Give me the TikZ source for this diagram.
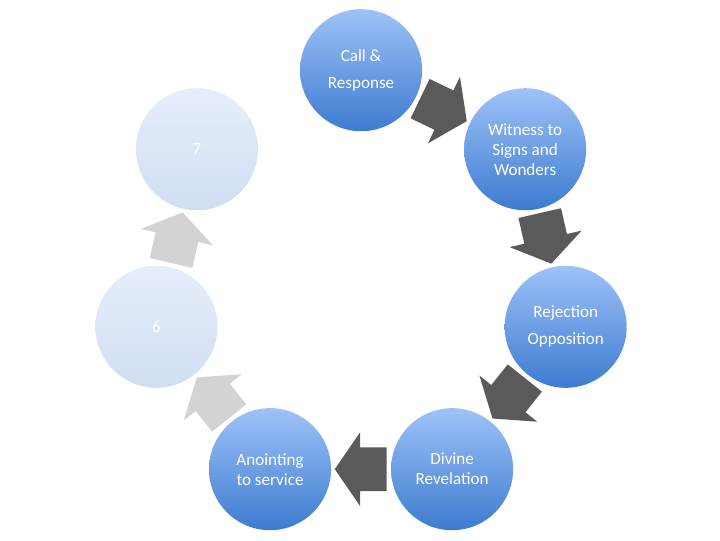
\documentclass[tikz,border=0pt]{standalone}
\usepackage{fontspec}
\setmainfont{Carlito}
\usetikzlibrary{shapes.arrows}

\definecolor{stagetop}{HTML}{9EC2F8}
\definecolor{stagebottom}{HTML}{3D7BD0}
\definecolor{paletop}{HTML}{E5EEFB}
\definecolor{palebottom}{HTML}{D0DEF2}
\definecolor{darkarrow}{HTML}{5A5A5A}
\definecolor{lightarrow}{HTML}{D3D3D3}

\begin{document}
\begin{tikzpicture}[
    stage/.style={circle, minimum size=3.39cm, inner sep=0pt, align=center,
                  top color=stagetop, bottom color=stagebottom, text=white,
                  font=\fontsize{13.5}{15.8}\selectfont},
    widestage/.style={stage, font=\fontsize{13.5}{21.3}\selectfont},
    pale/.style={stage, top color=paletop, bottom color=palebottom},
    turn/.style={single arrow, minimum height=1.44cm, inner xsep=0pt,
                 inner ysep=0.6cm, text height=0pt, text depth=0pt,
                 single arrow head extend=0.42cm, single arrow tip angle=111,
                 sloped, allow upside down, anchor=tail, pos=0.067},
    turndark/.style={turn, fill=darkarrow},
    turnlight/.style={turn, fill=lightarrow}]
    \useasboundingbox (-10.03,-7.22) rectangle (9.97,7.78);

    \node[widestage] (call)    at (90:5.83)      {Call \&\\Response};
    \node[stage]     (witness) at (38.57:5.83)   {Witness to\\Signs and\\Wonders};
    \node[widestage] (reject)  at (-12.86:5.83)  {Rejection\\Opposition};
    \node[stage]     (divine)  at (-64.29:5.83)  {Divine\\Revelation};
    \node[stage]     (anoint)  at (-115.71:5.83) {Anointing\\to service};
    \node[pale]      (six)     at (-167.14:5.83) {6};
    \node[pale]      (seven)   at (141.43:5.83)  {7};

    \path (call)    -- (witness) node[turndark]  (a1) {};
    \path (witness) -- (reject)  node[turndark]  (a2) {};
    \path (reject)  -- (divine)  node[turndark]  (a3) {};
    \path (divine)  -- (anoint)  node[turndark]  (a4) {};
    \path (anoint)  -- (six)     node[turnlight] (a5) {};
    \path (six)     -- (seven)   node[turnlight] (a6) {};
\end{tikzpicture}
\end{document}
